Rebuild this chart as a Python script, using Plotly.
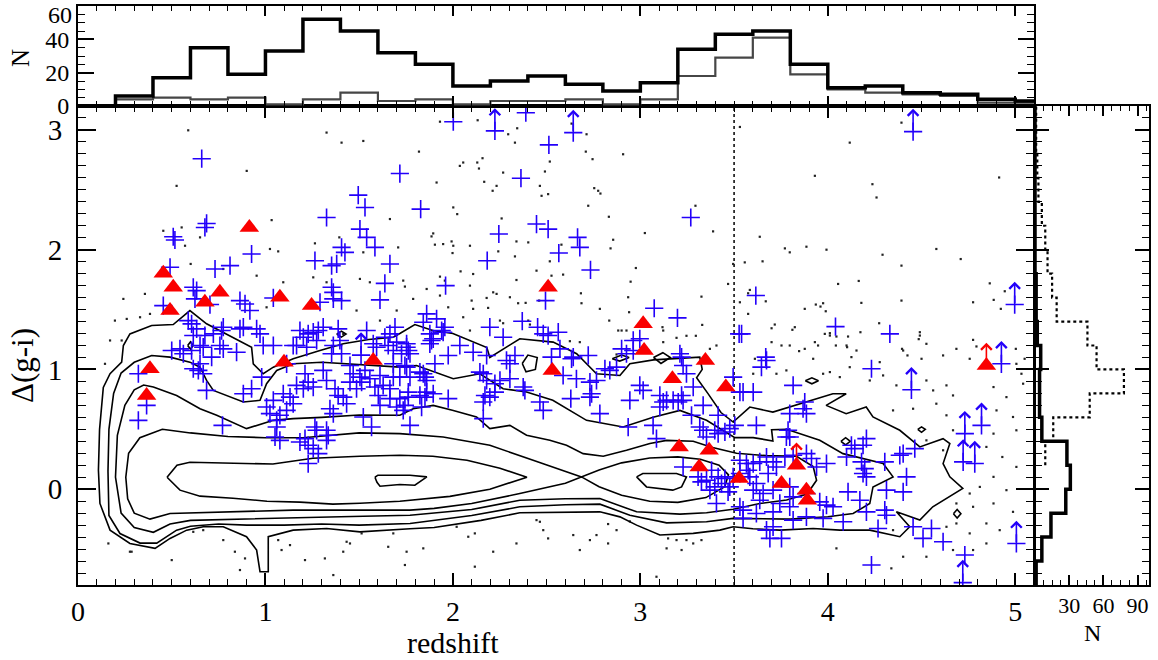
import plotly.graph_objects as go

# ---------------- top panel: redshift histograms (bins of 0.2) ----------------
z_bin_edges = [0.0, 0.2, 0.4, 0.6, 0.8, 1.0, 1.2, 1.4, 1.6, 1.8, 2.0, 2.2, 2.4, 2.6,
               2.8, 3.0, 3.2, 3.4, 3.6, 3.8, 4.0, 4.2, 4.4, 4.6, 4.8, 5.0, 5.2]
n_z_all = [0, 6, 17, 35, 19, 33, 52, 45, 32, 25, 12, 15, 18, 13, 9, 14, 34, 43, 45, 25,
           11, 12, 8, 7, 4, 3]
n_z_sub = [0, 4, 5, 4, 5, 1, 4, 8, 3, 4, 1, 3, 3, 4, 1, 4, 18, 29, 41, 19,
           10, 8, 7, 6, 2, 2]

# ---------------- right panel: Delta(g-i) histograms (bins of 0.2) ----------------
dgi_bin_edges = [-0.8, -0.6, -0.4, -0.2, 0.0, 0.2, 0.4, 0.6, 0.8, 1.0, 1.2, 1.4, 1.6,
                 1.8, 2.0, 2.2, 2.4, 2.6, 2.8, 3.0, 3.2]
n_dgi_solid = [1, 6, 14, 27, 31, 28, 6, 4, 4, 5, 2, 1, 1, 0, 0, 0, 0, 0, 0, 0]
n_dgi_dotted = [None, None, None, None, None, 9, 16, 48, 78, 54, 46, 19, 15, 11, 9, 6,
                3, 2, 1, 1]

# ---------------- main panel: objects (redshift, Delta(g-i)) ----------------
blue_pts = [
    (0.66, 2.76), (1.717, 2.636), (1.495, 2.456), (1.531, 2.353), (1.326, 2.269), (0.686, 2.219),
    (0.677, 2.186), (0.508, 2.108), (0.517, 2.081), (1.504, 2.172), (1.54, 2.103), (1.584, 2.019),
    (1.406, 2.019), (1.424, 1.978), (0.926, 1.964), (1.264, 1.908), (1.664, 1.881), (1.353, 1.867),
    (1.38, 1.881), (0.811, 1.867), (0.731, 1.839), (0.491, 1.853), (1.637, 1.719), (1.353, 1.686),
    (1.362, 1.644), (1.362, 1.589), (1.406, 1.575), (1.611, 1.581), (0.615, 1.686), (0.624, 1.589),
    (0.633, 1.658), (0.864, 1.575), (0.891, 1.547), (0.917, 1.492), (0.455, 1.533), (1.042, 1.597),
    (1.291, 1.561), (0.704, 1.542), (0.588, 1.408), (0.633, 1.339), (0.606, 1.381), (0.722, 1.297),
    (0.775, 1.353), (0.766, 1.325), (0.864, 1.339), (0.882, 1.353), (0.953, 1.339), (0.971, 1.297),
    (0.988, 1.2), (1.042, 1.2), (1.184, 1.325), (1.202, 1.269), (1.228, 1.297), (1.166, 1.2),
    (1.22, 1.186), (1.282, 1.325), (1.308, 1.353), (1.388, 1.339), (1.397, 1.242), (1.362, 1.2),
    (1.54, 1.325), (1.637, 1.269), (1.664, 1.297), (1.691, 1.353), (1.7, 1.228), (1.753, 1.186),
    (0.5, 1.158), (0.544, 1.172), (0.562, 1.131), (0.651, 1.2), (0.668, 1.186), (0.757, 1.2),
    (0.775, 1.172), (0.846, 1.144), (1.148, 1.2), (1.353, 1.131), (1.406, 1.131),
    (2.002, 3.069), (2.389, 3.144), (2.512, 2.875), (2.363, 2.597), (1.828, 2.339), (2.446, 2.214),
    (2.508, 2.172), (2.245, 2.131), (2.665, 2.103), (2.677, 2.019), (2.565, 1.972), (2.183, 1.908),
    (2.734, 1.831), (3.269, 2.269), (1.961, 1.7), (2.494, 1.575), (3.074, 1.511), (3.198, 1.431),
    (3.527, 1.297), (1.86, 1.464), (1.913, 1.422), (1.842, 1.394), (1.957, 1.353), (1.94, 1.325),
    (2.197, 1.353), (2.37, 1.403), (2.452, 1.353), (2.482, 1.297), (2.508, 1.283), (2.562, 1.311),
    (2.268, 1.269), (2.037, 1.2), (2.108, 1.144), (1.753, 1.214), (1.771, 1.131), (1.877, 1.297),
    (1.886, 1.242), (2.962, 1.242), (2.997, 1.256), (2.571, 1.172), (2.642, 1.103), (2.331, 1.117),
    (2.526, 1.103), (1.975, 1.117), (2.9, 1.172), (2.926, 1.131), (3.211, 1.131),
    (3.616, 1.617), (3.54, 1.297), (4.041, 1.358), (4.331, 1.297), (3.669, 1.103),
    (0.322, 0.964), (0.366, 0.7), (0.322, 0.575), (0.615, 1.283), (0.677, 1.283), (0.615, 1.006),
    (0.642, 0.992), (0.668, 0.964), (0.651, 1.047), (0.606, 1.158), (0.713, 1.103), (0.686, 0.825),
    (0.771, 0.533), (0.882, 0.797), (0.926, 0.839), (0.98, 0.936), (1.255, 1.311), (1.273, 1.242),
    (1.113, 1.047), (1.006, 0.686), (1.024, 0.631), (1.042, 0.742), (1.06, 0.575), (1.077, 0.617),
    (1.06, 0.519), (1.077, 0.408), (1.051, 0.436), (1.095, 0.797), (1.131, 0.769), (1.148, 0.714),
    (1.113, 0.658), (1.166, 0.867), (1.202, 0.839), (1.211, 0.964), (1.228, 0.894), (1.255, 0.853),
    (1.184, 0.394), (1.211, 0.422), (1.228, 0.367), (1.264, 0.519), (1.273, 0.492), (1.255, 0.339),
    (1.282, 0.297), (1.228, 0.214), (1.326, 0.492), (1.335, 0.45), (1.326, 0.408), (1.308, 0.992),
    (1.326, 0.908), (1.344, 0.672), (1.362, 0.631), (1.371, 0.839), (1.388, 0.783), (1.415, 0.769),
    (1.433, 0.714), (1.451, 1.033), (1.468, 0.964), (1.451, 0.894), (1.486, 0.839), (1.504, 0.936),
    (1.513, 0.894), (1.531, 0.992), (1.522, 0.603), (1.566, 0.519), (1.557, 0.922), (1.584, 0.853),
    (1.602, 0.783), (1.611, 0.95), (1.628, 0.867), (1.664, 0.839), (1.682, 0.936), (1.611, 0.7),
    (1.664, 0.756), (1.7, 0.686), (1.735, 0.658), (1.762, 0.769), (1.655, 1.2), (1.682, 1.158),
    (1.726, 1.131), (1.682, 1.047), (1.753, 1.019), (1.575, 1.214), (1.593, 1.186),
    (1.762, 1.158), (1.877, 1.214), (1.895, 1.256), (1.948, 1.311), (2.18, 1.117), (1.904, 1.047),
    (1.744, 1.033), (1.771, 0.936), (1.824, 0.978), (1.851, 0.936), (1.86, 0.908), (1.842, 0.964),
    (1.717, 0.936), (1.762, 0.811), (1.824, 0.783), (1.851, 0.769), (1.86, 0.811), (1.895, 0.797),
    (1.975, 0.756), (1.833, 0.686), (1.771, 0.533), (1.717, 0.756), (1.744, 0.7), (2.162, 0.964),
    (2.18, 0.908), (2.144, 0.978), (2.224, 0.881), (2.251, 0.908), (2.304, 0.922), (2.171, 0.783),
    (2.197, 0.769), (2.224, 0.811), (2.162, 0.589), (2.162, 0.728), (2.286, 1.075), (2.304, 1.047),
    (2.375, 0.853), (2.384, 0.825), (2.464, 0.728), (2.482, 0.658), (2.588, 0.95), (2.659, 0.922),
    (2.633, 1.089), (2.731, 0.894), (2.74, 0.797), (2.766, 0.908), (2.731, 0.769), (2.629, 0.756),
    (2.784, 0.631), (2.722, 1.117), (2.811, 1.006), (2.837, 0.992), (2.873, 1.019), (2.962, 1.158),
    (2.944, 0.742), (2.997, 0.867), (3.015, 0.825), (2.935, 0.519), (3.068, 0.533), (3.086, 0.422),
    (3.104, 0.783), (3.122, 0.728), (3.104, 0.686), (3.14, 0.742), (3.175, 0.742), (3.202, 0.728),
    (3.228, 0.742), (3.22, 0.783), (3.228, 1.033), (3.22, 1.103), (3.246, 0.964), (3.282, 0.853),
    (3.273, 0.617), (3.335, 0.7), (3.415, 0.617), (3.317, 0.519), (3.335, 0.492), (3.353, 0.436),
    (3.397, 0.492), (3.415, 0.464), (3.451, 0.478), (3.477, 0.506), (3.504, 0.533), (3.495, 0.936),
    (3.548, 0.811), (3.228, 0.186), (3.308, 0.103), (3.326, 0.061), (3.353, 0.075), (3.38, 0.158),
    (3.415, 0.103), (3.451, 0.089), (3.433, 0.047), (3.397, 0.019), (3.477, 0.019), (3.371, -0.008),
    (3.468, -0.022), (3.495, 0.103), (3.406, -0.119), (3.531, -0.147), (3.548, -0.244),
    (3.531, 0.242), (3.566, 0.214), (3.575, 0.158),
    (3.673, 1.075), (3.646, 1.019), (4.233, 1.006), (3.815, 0.867), (3.531, 0.811), (3.602, 0.811),
    (3.877, 0.728), (3.886, 0.631), (3.868, 0.672), (3.797, 0.631), (3.619, 0.533), (3.788, 0.492),
    (3.797, 0.436), (3.779, 0.436), (4.206, 0.422), (4.188, 0.367), (4.126, 0.367), (4.144, 0.339),
    (4.464, 0.339), (4.384, 0.283), (4.402, 0.297), (4.1, 0.269), (4.18, 0.228), (4.197, 0.172),
    (4.188, 0.131), (4.206, 0.103), (4.304, 0.228), (3.993, 0.214), (3.94, 0.186), (4.42, 0.103),
    (4.402, -0.022), (4.313, -0.008), (4.108, -0.022), (4.171, -0.092), (3.957, -0.106),
    (3.993, -0.133), (4.028, -0.147), (4.206, -0.189), (4.304, -0.175), (4.313, -0.217),
    (4.082, -0.272), (4.268, -0.328), (4.455, -0.314), (4.508, -0.411), (4.553, -0.328),
    (4.615, -0.439), (4.233, -0.633), (3.673, 0.269), (3.637, 0.228), (3.708, 0.228), (3.726, 0.186),
    (3.682, 0.131), (3.602, 0.214), (3.771, 0.269), (3.815, 0.283), (3.913, 0.256), (3.886, 0.297),
    (3.531, 0.131), (3.584, 0.103), (3.619, 0.047), (3.602, -0.008), (3.655, -0.036), (3.708, -0.008),
    (3.797, 0.019), (3.815, -0.064), (3.886, -0.036), (3.548, -0.175), (3.637, -0.092),
    (3.619, -0.203), (3.708, -0.189), (3.744, -0.119), (3.797, -0.147), (3.815, -0.258),
    (3.886, -0.231), (3.975, -0.244), (3.673, -0.342), (3.708, -0.314), (3.691, -0.411),
    (3.753, -0.411), (4.731, -0.55),
]

# lower limits (drawn with an upward arrow)
blue_limits = [
    (2.224, 2.992), (2.642, 2.978), (4.455, 2.986), (4.997, 1.542), (4.926, 1.047), (4.446, 0.83),
    (4.731, 0.464), (4.82, 0.533), (4.722, 0.228), (4.784, 0.214), (5.006, -0.453), (4.72, -0.78),
    (1.51, 1.12),
]

red_pts = [
    (0.914, 2.186), (0.455, 1.803), (0.508, 1.686), (0.757, 1.644), (0.677, 1.561), (1.077, 1.603),
    (1.246, 1.533), (0.491, 1.492), (0.384, 1.006), (0.366, 0.783), (1.099, 1.061), (1.575, 1.075),
    (2.508, 1.686), (3.015, 1.381), (3.02, 1.158), (3.347, 1.075), (2.53, 0.992), (3.171, 0.922),
    (3.456, 0.853), (3.207, 0.353), (3.367, 0.325), (3.314, 0.186), (3.527, 0.089), (3.753, 0.047),
    (3.886, -0.008), (3.891, -0.092), (3.833, 0.2), (4.846, 1.033),
]
red_limits = [(3.833, 0.2), (4.846, 1.033)]

field_dots = [
    (0.588, 2.997), (0.526, 2.533), (0.9, 2.658), (1.326, 2.978), (1.406, 2.894), (1.522, 2.908),
    (1.033, 2.247), (1.664, 2.256), (0.455, 2.158), (0.553, 2.186), (0.651, 2.103), (0.571, 2.033),
    (1.024, 2.006), (1.068, 1.986), (1.264, 2.053), (1.394, 2.103), (1.522, 1.978), (1.708, 2.019),
    (0.601, 1.881), (0.775, 1.839), (0.953, 1.783), (1.095, 1.728), (1.255, 1.769), (1.326, 1.728),
    (1.504, 1.756), (1.557, 1.728), (0.242, 1.589), (0.357, 1.631), (0.197, 1.408), (0.26, 1.422),
    (0.331, 1.436), (0.384, 1.464), (0.171, 1.242), (0.233, 1.242), (1.006, 1.519), (1.486, 1.492),
    (1.611, 1.408), (1.7, 1.492), (1.735, 1.742), (0.144, 1.047),
    (1.931, 3.069), (2.132, 3.081), (2.343, 3.014), (2.295, 2.964), (2.331, 2.894), (2.633, 3.053),
    (2.713, 2.964), (1.819, 2.819), (2.709, 2.819), (2.908, 2.797), (2.745, 2.756), (2.037, 2.7),
    (2.055, 2.728), (2.13, 2.728), (2.139, 2.678), (2.158, 2.764), (2.517, 2.736), (2.268, 2.644),
    (2.491, 2.653), (1.913, 2.561), (2.167, 2.567), (2.233, 2.533), (2.212, 2.492), (2.464, 2.533),
    (2.473, 2.45), (2.508, 2.464), (2.754, 2.514), (2.775, 2.492), (2.787, 2.469), (2.722, 2.367),
    (2.002, 2.353), (2.023, 2.297), (3.294, 2.367), (2.832, 2.275), (2.26, 2.261), (3.024, 2.139),
    (3.388, 2.153), (1.895, 2.136), (1.886, 2.111), (1.948, 2.047), (1.993, 2.069), (2.002, 2.033),
    (1.904, 2.042), (2.091, 2.033), (2.339, 2.069), (2.402, 2.061), (2.579, 2.042), (2.855, 2.083),
    (2.841, 2.011), (2.242, 1.986), (2.331, 1.944), (1.998, 1.972), (2.517, 1.903), (2.041, 1.819),
    (2.108, 1.797), (2.446, 1.825), (2.526, 1.783), (2.588, 1.792), (2.976, 1.847), (3.495, 1.881),
    (3.557, 1.894), (1.931, 1.775), (1.957, 1.742), (2.091, 1.7), (2.339, 1.747), (2.948, 1.733),
    (3.468, 1.714), (1.744, 1.692), (1.788, 1.589), (1.86, 1.672), (1.931, 1.617), (2.215, 1.644),
    (2.233, 1.631), (2.18, 1.597), (2.1, 1.575), (2.304, 1.603), (2.388, 1.556), (2.348, 1.553),
    (2.46, 1.575), (2.683, 1.636), (2.686, 1.553), (2.935, 1.603), (3.326, 1.608), (3.575, 1.636),
    (1.975, 1.519), (2.108, 1.506), (2.188, 1.514), (3.531, 1.561), (2.784, 1.506), (2.055, 1.436),
    (2.091, 1.325), (2.251, 1.408), (2.268, 1.386), (2.402, 1.408), (2.411, 1.375), (2.834, 1.408),
    (2.94, 1.478), (2.882, 1.325), (2.9, 1.325), (2.926, 1.325), (3.118, 1.353), (3.122, 1.325),
    (3.33, 1.372), (3.193, 1.264), (3.246, 1.281), (3.296, 1.281), (3.371, 1.172), (3.406, 1.2),
    (2.624, 1.236), (2.677, 1.228), (2.873, 1.125), (3.122, 1.228),
    (3.531, 3.025), (4.393, 3.061), (4.117, 2.894), (3.931, 2.617), (4.238, 2.547), (4.26, 2.436),
    (4.914, 2.603), (3.637, 2.108), (3.771, 2.011), (3.797, 1.978), (3.886, 2.025), (3.993, 2.0),
    (4.579, 2.006), (4.292, 1.958), (4.709, 1.922), (3.652, 1.903), (4.393, 1.867), (4.055, 1.714),
    (4.165, 1.739), (4.864, 1.719), (3.584, 1.664), (3.669, 1.569), (4.179, 1.556), (4.393, 1.575),
    (4.775, 1.561), (4.885, 1.581), (4.944, 1.653), (3.575, 1.464), (3.877, 1.506), (3.936, 1.542),
    (3.961, 1.525), (3.975, 1.553), (3.989, 1.486), (4.923, 1.506), (3.7, 1.344), (3.717, 1.375),
    (3.811, 1.331), (3.824, 1.353), (3.984, 1.297), (4.011, 1.303), (4.108, 1.275), (4.046, 1.275),
    (4.174, 1.311), (4.274, 1.386), (4.491, 1.311), (4.485, 1.253), (4.775, 1.247), (3.753, 1.2),
    (3.931, 1.228), (4.103, 1.186), (4.043, 1.2), (3.847, 1.153), (4.396, 1.172), (4.425, 1.117),
    (4.793, 1.192), (5.003, 1.172), (3.611, 1.089), (3.922, 1.089), (4.126, 1.103), (4.5, 1.089),
    (0.668, -0.342), (0.615, -0.356), (0.775, -0.425), (0.162, -0.453), (0.277, -0.522),
    (0.286, -0.522), (0.5, -0.592), (0.837, -0.522), (0.891, -0.578), (0.864, -0.675), (1.068, -0.425),
    (1.131, -0.467), (1.086, -0.508), (1.211, -0.592), (1.317, -0.578), (1.362, -0.717),
    (1.433, -0.439), (1.451, -0.453), (1.415, -0.522), (1.513, -0.369), (1.655, -0.481),
    (1.753, -0.522), (1.682, -0.369), (1.415, 1.297),
    (2.446, -0.258), (2.464, -0.272), (2.482, -0.342), (2.082, -0.397), (2.117, -0.369),
    (2.02, -0.314), (2.339, -0.453), (2.508, -0.411), (2.642, -0.383), (2.731, -0.425),
    (2.766, -0.383), (2.828, -0.453), (2.873, -0.342), (2.677, -0.508), (3.148, -0.411),
    (3.193, -0.425), (3.246, -0.425), (3.282, -0.453), (3.14, -0.494), (3.22, -0.508),
    (3.326, -0.425), (3.086, -0.731), (1.842, -0.494), (1.744, -0.633), (2.117, -0.647),
    (2.215, -0.522), (2.828, -0.291), (2.944, -0.269),
    (3.7, 1.228), (3.797, 1.2), (3.877, 1.172), (3.948, 1.2), (4.011, 1.283), (4.1, 1.2),
    (4.153, 1.158), (4.277, 1.061), (4.402, 1.158), (4.491, 1.283), (4.526, 1.214), (4.615, 1.117),
    (4.686, 1.172), (4.757, 1.089), (5.006, 1.047), (5.05, 1.089), (5.033, 0.964), (3.602, 0.964),
    (3.726, 0.964), (3.779, 0.992), (3.975, 0.964), (4.011, 0.978), (4.064, 0.936), (4.117, 1.019),
    (4.224, 0.908), (4.295, 0.95), (4.366, 0.867), (4.526, 0.908), (4.562, 0.825), (4.633, 0.867),
    (4.668, 0.783), (4.884, 0.853), (4.953, 0.769), (5.042, 0.881), (4.348, 0.658), (4.455, 0.672),
    (4.579, 0.714), (4.633, 0.617), (4.9, 0.658), (4.988, 0.603), (5.006, 0.492), (4.884, 0.464),
    (4.668, 0.492), (4.526, 0.408), (4.615, 0.325), (4.846, 0.353), (4.931, 0.269), (5.006, 0.186),
    (4.884, 0.103), (4.811, 0.019), (4.953, -0.008), (4.757, -0.036), (4.686, -0.119),
    (4.775, -0.147), (4.884, -0.119), (4.988, -0.189), (4.846, -0.286), (4.917, -0.342),
    (4.757, -0.369), (4.846, -0.453), (4.775, -0.508), (4.668, -0.508), (4.526, -0.564),
    (4.339, -0.661), (4.402, -0.564), (4.046, -0.494), (4.633, -0.314), (4.686, -0.286),
    (4.348, -0.342),
]

# ---------------- density contours of the parent sample ----------------
contour_lvl1 = [
    (0.109, 0.158), (0.115, 0.5), (0.135, 0.85), (0.171, 0.964), (0.233, 1.061), (0.242, 1.2),
    (0.277, 1.297), (0.393, 1.367), (0.508, 1.375), (0.597, 1.492), (0.686, 1.381), (0.793, 1.297),
    (0.926, 1.186), (0.935, 1.047), (0.988, 0.964), (1.042, 1.019), (1.148, 1.089), (1.291, 1.158),
    (1.415, 1.214), (1.55, 1.25), (1.682, 1.269), (1.717, 1.3), (1.797, 1.375), (1.893, 1.325),
    (2.0, 1.3), (2.181, 1.183), (2.197, 1.1), (2.357, 1.256), (2.535, 1.228), (2.66, 1.131),
    (2.766, 0.964), (2.891, 0.95), (2.944, 1.047), (3.07, 1.08), (3.2, 1.09), (3.317, 1.103),
    (3.33, 1.0), (3.3, 0.93), (3.36, 0.8), (3.43, 0.64), (3.495, 0.561), (3.584, 0.686),
    (3.707, 0.644), (4.027, 0.797), (4.098, 0.797), (3.991, 0.7), (4.098, 0.631), (4.205, 0.686),
    (4.241, 0.603), (4.384, 0.492), (4.491, 0.353), (4.615, 0.422), (4.651, 0.381), (4.615, 0.214),
    (4.651, 0.103), (4.72, 0.006), (4.56, -0.147), (4.491, -0.258), (4.366, -0.189),
    (4.437, -0.314), (4.384, -0.397), (4.224, -0.342), (4.064, -0.342), (3.922, -0.328),
    (3.744, -0.342), (3.6, -0.33), (3.495, -0.314), (3.424, -0.342), (3.282, -0.369),
    (3.104, -0.383), (2.98, -0.3), (2.891, -0.231), (2.784, -0.189), (2.6, -0.19), (2.357, -0.197),
    (2.15, -0.26), (1.9, -0.32), (1.771, -0.33), (1.504, -0.356), (1.326, -0.328), (1.148, -0.342),
    (1.015, -0.397), (1.015, -0.689), (0.971, -0.689), (0.953, -0.508), (0.899, -0.397),
    (0.775, -0.314), (0.668, -0.314), (0.58, -0.342), (0.491, -0.411), (0.411, -0.494),
    (0.277, -0.453), (0.171, -0.342), (0.117, -0.119), (0.109, 0.158),
]
contour_lvl2 = [
    (0.16, 0.15), (0.165, 0.5), (0.19, 0.8), (0.23, 0.97), (0.3, 1.06), (0.393, 1.117),
    (0.491, 1.103), (0.597, 1.061), (0.651, 1.019), (0.686, 0.908), (0.722, 0.825), (0.882, 0.728),
    (0.971, 0.742), (1.006, 0.881), (1.06, 0.992), (1.148, 1.047), (1.3, 1.06), (1.5, 1.04),
    (1.717, 1.019), (1.806, 1.033), (2.002, 0.922), (2.144, 0.964), (2.268, 0.839), (2.393, 0.811),
    (2.533, 0.742), (2.713, 0.575), (2.908, 0.519), (3.068, 0.6), (3.211, 0.658), (3.353, 0.575),
    (3.43, 0.5), (3.504, 0.431), (3.602, 0.431), (3.707, 0.403), (3.7, 0.497), (3.78, 0.5),
    (3.957, 0.408), (4.081, 0.297), (4.295, 0.214), (4.348, 0.103), (4.241, 0.019),
    (4.224, -0.119), (4.135, -0.203), (4.0, -0.23), (3.8, -0.25), (3.6, -0.25), (3.495, -0.244),
    (3.353, -0.272), (3.14, -0.281), (2.944, -0.217), (2.784, -0.125), (2.6, -0.13),
    (2.357, -0.147), (2.1, -0.22), (1.9, -0.26), (1.771, -0.286), (1.5, -0.3), (1.3, -0.29),
    (1.1, -0.3), (0.9, -0.3), (0.75, -0.29), (0.6, -0.31), (0.526, -0.342), (0.42, -0.45),
    (0.331, -0.45), (0.224, -0.37), (0.165, -0.22), (0.16, 0.15),
]
contour_lvl3 = [
    (0.2, 0.1), (0.21, 0.45), (0.25, 0.7), (0.3, 0.83), (0.35, 0.87), (0.402, 0.853),
    (0.526, 0.783), (0.651, 0.672), (0.74, 0.617), (0.899, 0.506), (1.042, 0.575), (1.148, 0.589),
    (1.3, 0.6), (1.5, 0.62), (1.717, 0.617), (1.788, 0.672), (1.895, 0.7), (2.002, 0.658),
    (2.126, 0.603), (2.197, 0.506), (2.304, 0.533), (2.393, 0.45), (2.517, 0.408), (2.606, 0.367),
    (2.695, 0.297), (2.802, 0.275), (2.926, 0.325), (3.051, 0.381), (3.14, 0.408), (3.282, 0.4),
    (3.38, 0.35), (3.513, 0.3), (3.673, 0.28), (3.833, 0.275), (3.922, 0.19), (3.94, 0.075),
    (3.89, -0.04), (3.78, -0.09), (3.637, -0.12), (3.495, -0.167), (3.353, -0.197),
    (3.211, -0.208), (2.98, -0.189), (2.784, -0.078), (2.6, -0.08), (2.357, -0.092),
    (2.1, -0.17), (1.9, -0.2), (1.771, -0.217), (1.4, -0.23), (1.1, -0.24), (0.793, -0.25),
    (0.6, -0.26), (0.491, -0.29), (0.402, -0.36), (0.3, -0.32), (0.23, -0.2), (0.2, 0.1),
]
contour_lvl4 = [
    (0.255, 0.1), (0.27, 0.3), (0.33, 0.43), (0.45, 0.5), (0.6, 0.47), (0.8, 0.44), (1.0, 0.43),
    (1.2, 0.43), (1.5, 0.47), (1.717, 0.464), (1.948, 0.436), (2.197, 0.367), (2.428, 0.242),
    (2.686, 0.103), (2.78, 0.02), (2.9, -0.05), (3.05, -0.1), (3.2, -0.11), (3.35, -0.07),
    (3.45, 0.02), (3.47, 0.12), (3.42, 0.2), (3.32, 0.25), (3.2, 0.27), (3.05, 0.26), (2.9, 0.22),
    (2.78, 0.16), (2.686, 0.103), (2.6, 0.05), (2.357, -0.036), (2.1, -0.12), (1.9, -0.16),
    (1.771, -0.175), (1.148, -0.175), (0.793, -0.189), (0.491, -0.203), (0.384, -0.25),
    (0.3, -0.2), (0.265, -0.08), (0.255, 0.1),
]
contour_lvl5a = [
    (0.475, 0.10), (0.528, 0.20), (0.597, 0.225), (0.811, 0.217), (1.04, 0.21), (1.253, 0.258),
    (1.504, 0.275), (1.717, 0.283), (1.893, 0.275), (2.075, 0.242), (2.251, 0.175), (2.395, 0.10),
    (2.197, 0.0), (1.984, -0.06), (1.717, -0.1), (1.504, -0.117), (1.36, -0.125),
    (1.184, -0.108), (1.008, -0.1), (0.827, -0.075), (0.651, -0.058), (0.544, -0.008), (0.475, 0.10),
]
contour_lvl5b = [
    (2.98, 0.103), (3.013, 0.131), (3.193, 0.131), (3.246, 0.103), (3.22, 0.019), (3.173, -0.008),
    (3.033, 0.019), (2.98, 0.103),
]
contour_lvl6 = [
    (1.584, 0.10), (1.6, 0.117), (1.771, 0.117), (1.861, 0.103), (1.797, 0.033), (1.717, 0.039),
    (1.611, 0.025), (1.595, 0.058), (1.584, 0.10),
]
contour_islands = [
    [(0.585, 1.2), (0.6, 1.23), (0.615, 1.2), (0.6, 1.17), (0.585, 1.2)],
    [(1.38, 1.295), (1.405, 1.32), (1.43, 1.295), (1.405, 1.27), (1.38, 1.295)],
    [(2.37, 1.05), (2.4, 1.12), (2.45, 1.1), (2.44, 1.0), (2.39, 0.98), (2.37, 1.05)],
    [(2.85, 1.09), (2.9, 1.12), (2.94, 1.1), (2.89, 1.07), (2.85, 1.09)],
    [(3.07, 1.1), (3.12, 1.14), (3.16, 1.1), (3.11, 1.05), (3.07, 1.1)],
    [(3.88, 0.905), (3.915, 0.93), (3.95, 0.905), (3.915, 0.88), (3.88, 0.905)],
    [(4.07, 0.4), (4.095, 0.43), (4.12, 0.4), (4.095, 0.37), (4.07, 0.4)],
    [(4.48, 0.5), (4.5, 0.52), (4.52, 0.5), (4.5, 0.475), (4.48, 0.5)],
    [(4.67, -0.205), (4.69, -0.17), (4.71, -0.205), (4.69, -0.24), (4.67, -0.205)],
]

# ---------------- styling ----------------
SERIF = "Liberation Serif"
BLUE = "rgb(35,0,250)"
RED = "rgb(250,0,0)"
W, H = 1158, 660
X_MAIN = [78 / W, 1034 / W]
Y_MAIN = [1 - 585 / H, 1 - 106 / H]
Y_TOP = [1 - 106 / H, 1 - 6 / H]
X_RIGHT = [1035 / W, 1149 / W]

fig = go.Figure()

# top histograms
fig.add_trace(go.Scatter(x=z_bin_edges, y=n_z_sub + [n_z_sub[-1]], mode="lines",
                         line=dict(shape="hv", color="rgb(70,70,70)", width=2.2),
                         xaxis="x2", yaxis="y2", hoverinfo="skip"))
fig.add_trace(go.Scatter(x=z_bin_edges, y=n_z_all + [n_z_all[-1]], mode="lines",
                         line=dict(shape="hv", color="black", width=3.5),
                         xaxis="x2", yaxis="y2", hoverinfo="skip"))


def vertical_steps(values, edges):
    """Step outline for a histogram lying along the y axis."""
    xs, ys = [], []
    for i, v in enumerate(values):
        if v is None:
            continue
        xs.append(v)
        ys.append(edges[i])
        last_v, last_e = v, edges[i + 1]
    xs.append(last_v)
    ys.append(last_e)
    return xs, ys


sx, sy = vertical_steps(n_dgi_dotted, dgi_bin_edges)
fig.add_trace(go.Scatter(x=sx, y=sy, mode="lines",
                         line=dict(shape="vh", color="black", width=2.2, dash="dot"),
                         xaxis="x3", yaxis="y3", hoverinfo="skip"))
sx, sy = vertical_steps(n_dgi_solid, dgi_bin_edges)
fig.add_trace(go.Scatter(x=sx, y=sy, mode="lines",
                         line=dict(shape="vh", color="black", width=3.5),
                         xaxis="x3", yaxis="y3", hoverinfo="skip"))

# parent-sample points
fig.add_trace(go.Scatter(x=[p[0] for p in field_dots], y=[p[1] for p in field_dots],
                         mode="markers", marker=dict(symbol="square", size=2.2, color="#222"),
                         hoverinfo="skip"))

# contours
for path in [contour_lvl1, contour_lvl2, contour_lvl3, contour_lvl4, contour_lvl5a,
             contour_lvl5b, contour_lvl6] + contour_islands:
    fig.add_trace(go.Scatter(x=[p[0] for p in path], y=[p[1] for p in path], mode="lines",
                             line=dict(color="black", width=1.6), hoverinfo="skip"))

# blue sample
all_blue = blue_pts + blue_limits
fig.add_trace(go.Scatter(x=[p[0] for p in all_blue], y=[p[1] for p in all_blue],
                         mode="markers",
                         marker=dict(symbol="cross-thin", size=13,
                                     line=dict(color=BLUE, width=1.6)),
                         hoverinfo="skip"))

# red sample
fig.add_trace(go.Scatter(x=[p[0] for p in red_pts], y=[p[1] for p in red_pts], mode="markers",
                         marker=dict(symbol="triangle-up", size=17, color=RED,
                                     line=dict(width=0)),
                         hoverinfo="skip"))

annotations = []
for pts, col in [(blue_limits, BLUE), (red_limits, RED)]:
    for zz, dd in pts:
        annotations.append(dict(x=zz, y=dd + 0.19, ax=zz, ay=dd, xref="x", yref="y",
                                axref="x", ayref="y", text="", showarrow=True,
                                arrowhead=4, arrowsize=1.3, arrowwidth=1.6,
                                arrowcolor=col))


def label(text, px, py, size, angle=0, xanchor="center"):
    return dict(text=text, x=px / W, y=1 - py / H, xref="paper", yref="paper",
                xanchor=xanchor, yanchor="middle", showarrow=False, textangle=angle,
                font=dict(family=SERIF, size=size, color="black"))


annotations += [
    label("redshift", 453, 642, 30),
    label("\u0394(g-i)", 22, 366, 31, angle=-90),
    label("N", 20, 58, 25, angle=-90),
    label("N", 1092, 633, 24),
    label("60", 74, 15, 24, xanchor="right"),
]

shapes = [dict(type="line", x0=3.5, x1=3.5, y0=-0.8, y1=3.2, xref="x", yref="y",
               line=dict(color="black", width=1.5, dash="dot"), layer="below")]

frame = dict(showline=True, linecolor="black", linewidth=2, mirror="ticks", ticks="inside",
             tickcolor="black", tickwidth=1.5, showgrid=False, zeroline=False,
             automargin=False)

fig.update_layout(
    width=W, height=H, margin=dict(l=0, r=0, t=0, b=0, autoexpand=False),
    paper_bgcolor="white", plot_bgcolor="white", showlegend=False,
    annotations=annotations, shapes=shapes,
    xaxis=dict(frame, domain=X_MAIN, range=[0, 5.1], anchor="y", tick0=0, dtick=1, ticklen=12,
               minor=dict(dtick=0.1, tick0=0, ticklen=6, ticks="inside", tickcolor="black",
                          tickwidth=1.2),
               tickfont=dict(family=SERIF, size=28, color="black"), ticklabelstandoff=0),
    yaxis=dict(frame, domain=Y_MAIN, range=[-0.8, 3.2], anchor="x", tick0=0, dtick=1,
               ticklen=18,
               minor=dict(dtick=0.1, tick0=0, ticklen=8, ticks="inside", tickcolor="black",
                          tickwidth=1.2),
               tickfont=dict(family=SERIF, size=29, color="black"), ticklabelstandoff=8),
    xaxis2=dict(frame, domain=X_MAIN, range=[0, 5.1], anchor="y2", tick0=0, dtick=1,
                ticklen=10, showticklabels=False,
                minor=dict(dtick=0.1, tick0=0, ticklen=5, ticks="inside", tickcolor="black",
                           tickwidth=1.2)),
    yaxis2=dict(frame, domain=Y_TOP, range=[0, 60], anchor="x2", tickvals=[0, 20, 40],
                ticklen=16,
                minor=dict(dtick=5, tick0=0, ticklen=7, ticks="inside", tickcolor="black",
                           tickwidth=1.2),
                tickfont=dict(family=SERIF, size=24, color="black"), ticklabelstandoff=2),
    xaxis3=dict(frame, domain=X_RIGHT, range=[0, 100], anchor="y3", tickvals=[30, 60, 90],
                ticklen=10,
                minor=dict(dtick=7.5, tick0=0, ticklen=5, ticks="inside", tickcolor="black",
                           tickwidth=1.2),
                tickfont=dict(family=SERIF, size=22, color="black"), ticklabelstandoff=0),
    yaxis3=dict(frame, domain=Y_MAIN, range=[-0.8, 3.2], anchor="x3", tick0=0, dtick=1,
                ticklen=14, showticklabels=False,
                minor=dict(dtick=0.1, tick0=0, ticklen=7, ticks="inside", tickcolor="black",
                           tickwidth=1.2)),
)

fig.write_html("out.html")
